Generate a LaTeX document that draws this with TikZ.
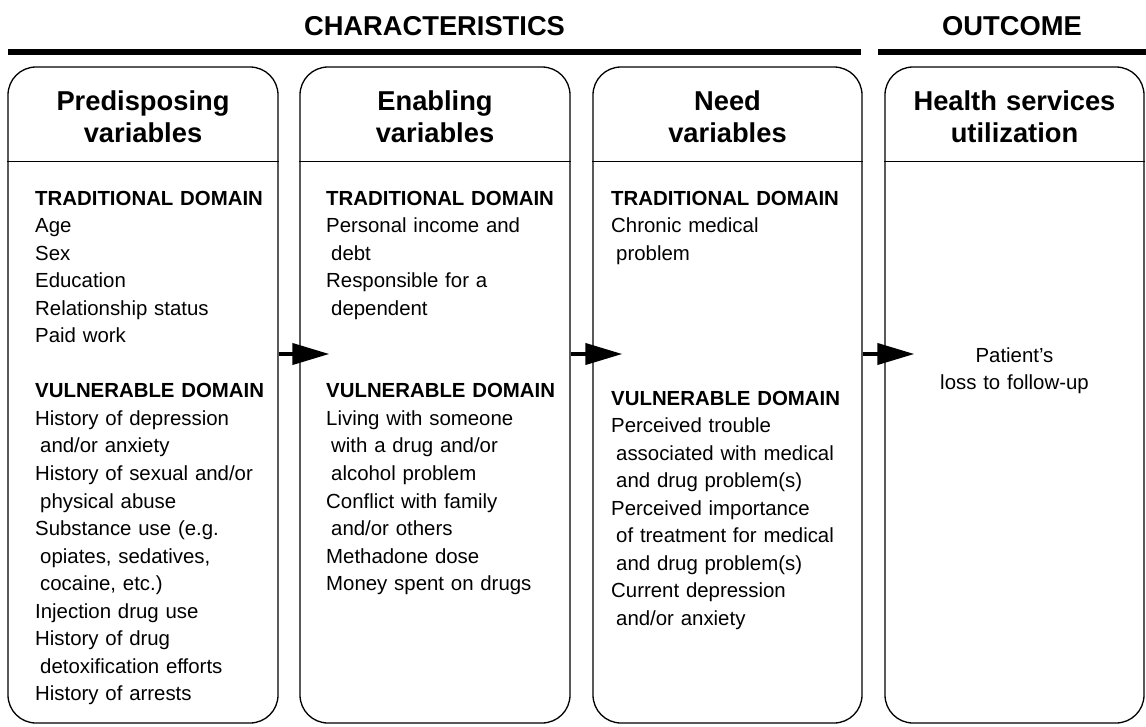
\documentclass[tikz,border=0pt]{standalone}
\usepackage{fontspec}
\setmainfont{Liberation Sans}
\usetikzlibrary{arrows.meta}
\newcommand\contind{\hspace*{5pt}}
\begin{document}
\begin{tikzpicture}[x=1pt,y=-1pt,
  panel/.style={draw, line width=1.3pt, rounded corners=28pt, minimum height=656pt, inner sep=0pt},
  topbar/.style={line width=6pt},
  sepline/.style={line width=1.4pt},
  flow/.style={line width=4pt, -{Triangle[length=37pt,width=21pt]}},
  title/.style={font=\fontsize{27.3}{32}\selectfont\bfseries, anchor=base, inner sep=0pt},
  head/.style={font=\fontsize{27.3}{32}\selectfont\bfseries, align=center, text width=260pt, anchor=base, inner sep=0pt},
  body/.style={font=\fontsize{20.4}{27.55}\selectfont, align=left, text width=300pt, anchor=base west, inner sep=0pt},
  outtext/.style={font=\fontsize{20.4}{27.55}\selectfont, align=center, text width=250pt, anchor=base, inner sep=0pt}]
\useasboundingbox (0,0) rectangle (1146,726);

% section titles and bars
\node[title] (char) at (434.5,35) {CHARACTERISTICS};
\node[title] (outc) at (1012,35) {OUTCOME};
\draw[topbar] (8,52) -- (861,52);
\draw[topbar] (878,52) -- (1146,52);

% panels
\node[panel, minimum width=270pt] (b1) at (143,395) {};
\node[panel, minimum width=270pt] (b2) at (435,395) {};
\node[panel, minimum width=269pt] (b3) at (727.5,395) {};
\node[panel, minimum width=259pt] (b4) at (1014.5,395) {};

% header separators
\foreach \b in {b1,b2,b3,b4}
  \draw[sepline] ([yshift=-95pt]\b.north west) -- ([yshift=-95pt]\b.north east);

% headers
\node[head] (h1) at (143,110) {Predisposing\\variables};
\node[head] (h2) at (435,110) {Enabling\\variables};
\node[head] (h3) at (727.5,110) {Need\\variables};
\node[head] (h4) at (1014.5,110) {Health services\\utilization};

% box 1
\node[body] (t1) at (35,205) {{\bfseries TRADITIONAL DOMAIN}\\Age\\Sex\\Education\\Relationship status\\Paid work};
\node[body] (v1) at (35,397.85) {{\bfseries VULNERABLE DOMAIN}\\History of depression\\\contind and/or anxiety\\History of sexual and/or\\\contind physical abuse\\Substance use (e.g.\\\contind opiates, sedatives,\\\contind cocaine, etc.)\\Injection drug use\\History of drug\\\contind detoxification efforts\\History of arrests};

% box 2
\node[body] (t2) at (326,205) {{\bfseries TRADITIONAL DOMAIN}\\Personal income and\\\contind debt\\Responsible for a\\\contind dependent};
\node[body] (v2) at (326,397.85) {{\bfseries VULNERABLE DOMAIN}\\Living with someone\\\contind with a drug and/or\\\contind alcohol problem\\Conflict with family\\\contind and/or others\\Methadone dose\\Money spent on drugs};

% box 3
\node[body] (t3) at (611,205) {{\bfseries TRADITIONAL DOMAIN}\\Chronic medical\\\contind problem};
\node[body] (v3) at (611,405) {{\bfseries VULNERABLE DOMAIN}\\Perceived trouble\\\contind associated with medical\\\contind and drug problem(s)\\Perceived importance\\\contind of treatment for medical\\\contind and drug problem(s)\\Current depression\\\contind and/or anxiety};

% box 4
\node[outtext] (o4) at (1014.5,362) {Patient's\\loss to follow-up};

% arrows
\draw[flow] ([yshift=41pt]b1.east) -- ([yshift=41pt,xshift=30pt]b2.west);
\draw[flow] ([yshift=41pt]b2.east) -- ([yshift=41pt,xshift=30pt]b3.west);
\draw[flow] ([yshift=41pt]b3.east) -- ([yshift=41pt,xshift=30pt]b4.west);
\end{tikzpicture}
\end{document}
